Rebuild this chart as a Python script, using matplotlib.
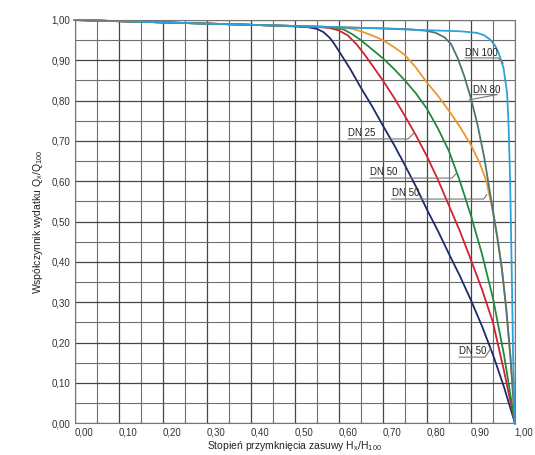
import matplotlib
matplotlib.use("Agg")
import matplotlib.pyplot as plt
import matplotlib.transforms as mtransforms
import numpy as np

plt.rcParams['font.family'] = ['Liberation Sans Narrow', 'Liberation Sans', 'DejaVu Sans']
plt.rcParams['mathtext.default'] = 'regular'
plt.rcParams['font.size'] = 7.5

# valve closure degree H_x/H_100 vs flow coefficient Q_x/Q_100
navy_x = [0, 0.2, 0.4, 0.5, 0.53, 0.55, 0.565, 0.58, 0.59, 0.60, 0.625, 0.65, 0.675, 0.70, 0.725, 0.75, 0.775,
          0.80, 0.825, 0.85, 0.875, 0.90, 0.925, 0.95, 0.975, 1.0]
navy_y = [1.0, 0.994, 0.988, 0.984, 0.982, 0.978, 0.970, 0.955, 0.94, 0.923, 0.880, 0.832, 0.787, 0.738, 0.691,
          0.640, 0.587, 0.530, 0.477, 0.420, 0.365, 0.305, 0.241, 0.170, 0.090, 0.0]

red_x = [0, 0.2, 0.4, 0.5, 0.56, 0.58, 0.60, 0.62, 0.64, 0.66, 0.70, 0.725, 0.75, 0.775, 0.80, 0.825, 0.85,
         0.875, 0.90, 0.925, 0.95, 0.975, 1.0]
red_y = [1.0, 0.994, 0.988, 0.985, 0.982, 0.980, 0.974, 0.962, 0.940, 0.912, 0.850, 0.808, 0.762, 0.714, 0.662,
         0.604, 0.540, 0.476, 0.405, 0.332, 0.250, 0.130, 0.0]

green_x = [0, 0.2, 0.4, 0.5, 0.56, 0.59, 0.61, 0.63, 0.65, 0.70, 0.725, 0.75, 0.775, 0.80, 0.825, 0.85, 0.875,
           0.90, 0.925, 0.95, 0.975, 1.0]
green_y = [1.0, 0.994, 0.988, 0.985, 0.983, 0.981, 0.977, 0.965, 0.950, 0.905, 0.879, 0.850, 0.818, 0.780, 0.731,
           0.675, 0.600, 0.515, 0.420, 0.310, 0.170, 0.0]

orange_x = [0, 0.2, 0.4, 0.5, 0.60, 0.63, 0.65, 0.675, 0.70, 0.725, 0.75, 0.775, 0.80, 0.825, 0.85, 0.875, 0.90,
            0.92, 0.935, 0.948, 0.96, 0.97, 0.98, 0.99, 1.0]
orange_y = [1.0, 0.994, 0.988, 0.985, 0.982, 0.978, 0.972, 0.962, 0.950, 0.933, 0.913, 0.882, 0.845, 0.812, 0.775,
            0.735, 0.690, 0.645, 0.600, 0.535, 0.460, 0.385, 0.285, 0.160, 0.0]

gray_x = [0, 0.2, 0.4, 0.5, 0.6, 0.7, 0.76, 0.80, 0.82, 0.84, 0.855, 0.87, 0.885, 0.90, 0.915, 0.93, 0.948, 0.96,
          0.97, 0.98, 0.99, 1.0]
gray_y = [1.0, 0.994, 0.988, 0.985, 0.982, 0.979, 0.977, 0.973, 0.968, 0.957, 0.940, 0.905, 0.860, 0.805, 0.740,
          0.660, 0.540, 0.460, 0.385, 0.285, 0.160, 0.0]

blue_x = [0, 0.2, 0.4, 0.5, 0.6, 0.7, 0.762, 0.82, 0.876, 0.914, 0.93, 0.944, 0.955, 0.963, 0.974,
          0.982, 0.985, 0.989, 0.993, 0.996, 1.0]
blue_y = [1.0, 0.994, 0.988, 0.985, 0.982, 0.979, 0.976, 0.974, 0.972, 0.968, 0.962, 0.951, 0.936, 0.918, 0.881,
          0.819, 0.753, 0.60, 0.35, 0.15, 0.0]

labels = ["DN 100", "DN 80", "DN 25", "DN 50", "DN 50", "DN 50"]
tick_labels = ["0,00", "0,10", "0,20", "0,30", "0,40", "0,50", "0,60", "0,70", "0,80", "0,90", "1,00"]

curves = [
    (navy_x, navy_y, "#1f2a6e"),
    (red_x, red_y, "#d4202f"),
    (green_x, green_y, "#23893f"),
    (orange_x, orange_y, "#ec962f"),
    (gray_x, gray_y, "#4d7676"),
    (blue_x, blue_y, "#2ea1d8"),
]

# label placement: text anchor, end of underline, leader tip, underline height
label_pos = [
    ((0.887, 0.918), 0.962, (0.973, 0.893), 0.906),
    ((0.905, 0.827), 0.960, (0.896, 0.802), 0.815),
    ((0.621, 0.720), 0.757, (0.771, 0.720), 0.705),
    ((0.671, 0.622), 0.857, (0.867, 0.620), 0.608),
    ((0.720, 0.571), 0.929, (0.936, 0.567), 0.556),
    ((0.873, 0.178), 0.932, (0.944, 0.184), 0.164),
]

fig = plt.figure(figsize=(5.35, 4.55), dpi=100)
ax = fig.add_axes([0.1396, 0.0697, 0.8230, 0.8864])

ticks = np.arange(0, 1.0001, 0.1)
minor = np.arange(0.05, 1.0, 0.1)
ax.set_xticks(ticks)
ax.set_xticklabels(tick_labels)
ax.set_yticks(ticks)
ax.set_yticklabels(tick_labels)
ax.set_xticks(minor, minor=True)
ax.set_yticks(minor, minor=True)
ax.grid(which='major', color='#454545', linewidth=0.9)
ax.grid(which='minor', color='#6e6e6e', linewidth=0.8)
ax.tick_params(which='both', length=0, labelsize=7, colors='#333333', pad=3)
ax.set_axisbelow(True)
for s in ax.spines.values():
    s.set_color('#777777')
    s.set_linewidth(0.8)

# tick labels in the original sit a bit right of their grid lines
offset = mtransforms.ScaledTranslation(0.09, 0, fig.dpi_scale_trans)
for lbl in ax.get_xticklabels():
    lbl.set_transform(lbl.get_transform() + offset)

for xs, ys, c in curves:
    ax.plot(xs, ys, color=c, linewidth=1.3, solid_joinstyle='round', clip_on=False)

for text, (pos, uend, tip, uy) in zip(labels, label_pos):
    ax.text(pos[0], pos[1], text, fontsize=7, color='#222222', va='center', ha='left')
    ax.plot([pos[0], uend, tip[0]], [uy, uy, tip[1]], color='#777777', linewidth=0.8)

ax.set_xlim(0, 1)
ax.set_ylim(0, 1)
ax.set_xlabel("Stopień przymknięcia zasuwy H$_x$/H$_{100}$", fontsize=7.5, color='#222222', labelpad=1)
ax.set_ylabel("Współczynnik wydatku Q$_x$/Q$_{100}$", fontsize=7.5, color='#222222', labelpad=5)

fig.savefig("out.png", dpi=100)
